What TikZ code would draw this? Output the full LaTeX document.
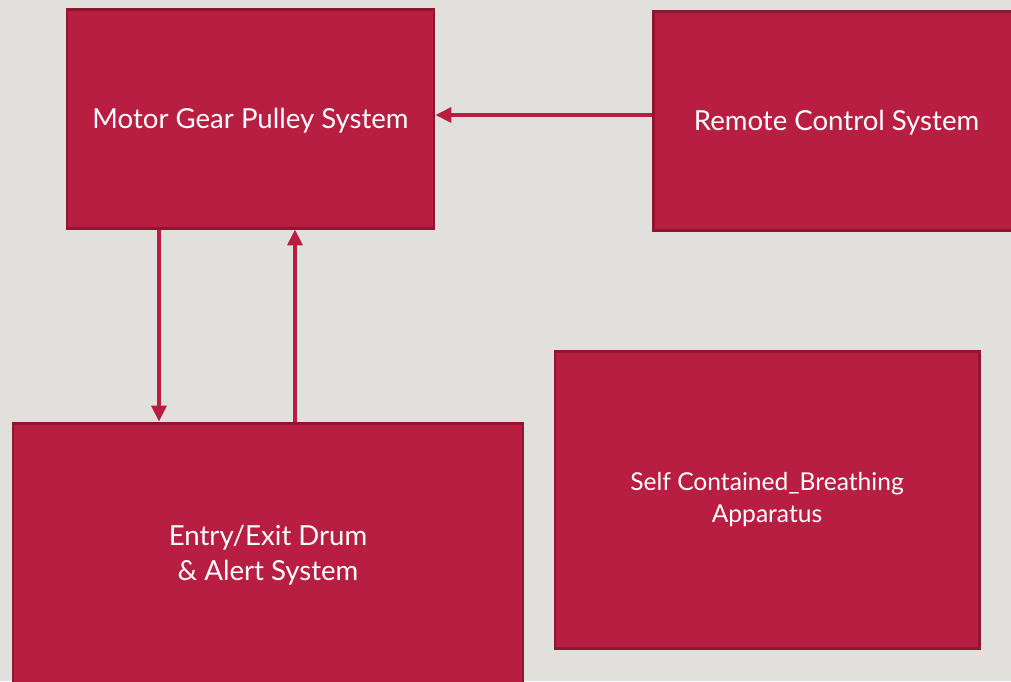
\documentclass[tikz,border=0pt]{standalone}
\usepackage{fontspec}
\setmainfont{Lato}
\usetikzlibrary{arrows.meta}
\definecolor{boxcol}{HTML}{B81E42}
\definecolor{edgecol}{HTML}{8C1731}
\definecolor{bgcol}{HTML}{E2E0DC}

\tikzset{
  block/.style={draw=edgecol, line width=1.7pt, fill=boxcol, text=white,
    align=center, font=\fontsize{15.7}{20}\selectfont, inner sep=0pt},
  link/.style={draw=boxcol, line width=2pt, -{Triangle[length=9pt,width=8.5pt]}}
}

\begin{document}
\begin{tikzpicture}[x=0.02cm, y=-0.02cm]
  \fill[bgcol] (0,0) rectangle (1011,681);
  \useasboundingbox (0,0) rectangle (1011,681);
  \clip (0,0) rectangle (1011,681);
  \node[block, minimum width=367*0.02cm, minimum height=219*0.02cm, text depth=-3pt] (motor) at (250.5,118.5) {Motor Gear Pulley System};
  \node[block, minimum width=367*0.02cm, minimum height=219*0.02cm, text depth=-2pt] (remote) at (836.5,120.5) {Remote Control System};
  \node[block, minimum width=510*0.02cm, minimum height=264*0.02cm] (drum) at (268,555) {Entry/Exit Drum\\ \& Alert System};
  \node[block, minimum width=424*0.02cm, minimum height=297*0.02cm, font=\fontsize{14}{18.5}\selectfont] (scba) at (767,499.5) {Self Contained\_Breathing\\ Apparatus};
  % connectors
  \draw[link] (remote.west |- 0,115) -- (motor.east |- 0,115);
  \draw[link] (motor.south -| 159,0) -- (drum.north -| 159,0);
  \draw[link] (drum.north -| 295,0) -- (motor.south -| 295,0);
\end{tikzpicture}
\end{document}
